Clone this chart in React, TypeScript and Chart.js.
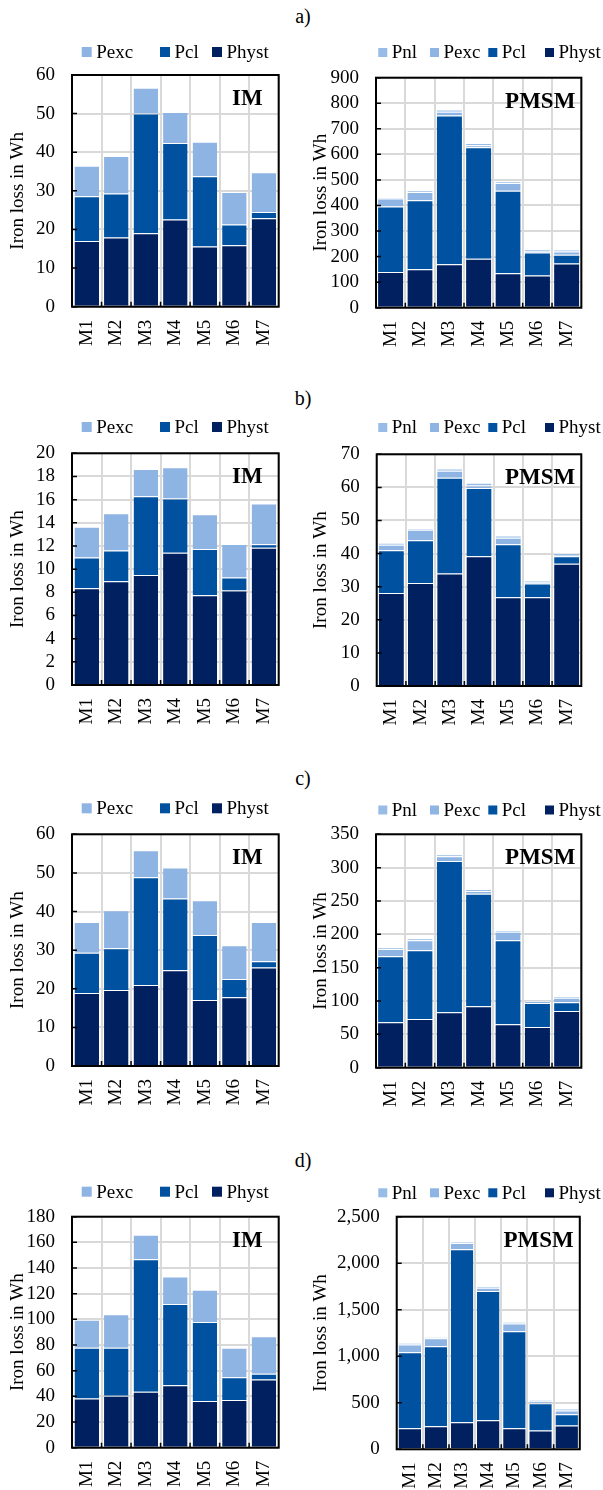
import React, { useEffect, useRef } from "react";
import { Chart, registerables } from "chart.js";

Chart.register(...registerables);

const FONT = '"Liberation Serif", "Times New Roman", serif';

const categories = ["M1", "M2", "M3", "M4", "M5", "M6", "M7"];

// a) IM
const aImPhyst = [17.0, 17.9, 19.0, 22.6, 15.6, 15.9, 22.9];
const aImPcl = [11.6, 11.4, 31.0, 19.8, 18.2, 5.4, 1.6];
const aImPexc = [7.9, 9.7, 6.7, 8.0, 8.9, 8.4, 10.3];
// a) PMSM
const aPmPhyst = [140, 150, 170, 192, 135, 126, 173];
const aPmPcl = [256, 270, 582, 436, 323, 90, 34];
const aPmPexc = [31, 33, 15, 8, 30, 6, 13];
const aPmPnl = [5, 5, 9, 8, 5, 6, 8];

// b) IM
const bImPhyst = [8.35, 8.96, 9.5, 11.42, 7.75, 8.15, 11.85];
const bImPcl = [2.65, 2.66, 6.8, 4.68, 3.98, 1.13, 0.29];
const bImPexc = [2.67, 3.21, 2.34, 2.69, 3.01, 2.89, 3.52];
// b) PMSM
const bPmPhyst = [28.1, 31.1, 34.0, 39.2, 26.8, 26.8, 36.9];
const bPmPcl = [12.9, 12.9, 28.9, 20.6, 16.0, 4.2, 2.3];
const bPmPexc = [1.7, 3.2, 2.1, 0.8, 2.0, 0.3, 0.4];
const bPmPnl = [0.6, 0.3, 0.7, 0.8, 0.7, 0.5, 0.6];

// c) IM
const cImPhyst = [18.9, 19.7, 21.0, 24.8, 17.1, 17.8, 25.5];
const cImPcl = [10.4, 10.8, 27.9, 18.6, 16.8, 4.7, 1.6];
const cImPexc = [8.0, 9.8, 7.0, 8.0, 9.0, 8.8, 10.2];
// c) PMSM
const cPmPhyst = [68, 73, 83, 92, 65, 61, 85];
const cPmPcl = [99, 103, 227, 169, 126, 36, 13];
const cPmPexc = [11, 15, 7, 4, 13, 3, 7];
const cPmPnl = [2, 3, 3, 3, 2, 1, 2];

// d) IM
const dImPhyst = [38.4, 40.5, 43.6, 48.6, 36.4, 37.1, 53.2];
const dImPcl = [39.5, 37.4, 103.2, 63.3, 61.5, 17.7, 4.5];
const dImPexc = [21.8, 26.0, 19.2, 21.6, 25.2, 23.1, 29.1];
// d) PMSM
const dPmPhyst = [227, 248, 291, 313, 227, 201, 255];
const dPmPcl = [816, 860, 1860, 1388, 1043, 295, 123];
const dPmPexc = [83, 86, 65, 36, 83, 18, 39];
const dPmPnl = [18, 11, 14, 15, 14, 18, 22];

// y-axis ranges [max, step]
const aImAxis = [60, 10];
const aPmAxis = [900, 100];
const bImAxis = [20, 2];
const bPmAxis = [70, 10];
const cImAxis = [60, 10];
const cPmAxis = [350, 50];
const dImAxis = [180, 20];
const dPmAxis = [2500, 500];

const rowLabels = ["a)", "b)", "c)", "d)"];
const yTitle = "Iron loss in Wh";

const COLORS: Record<string, string> = {
  Physt: "#002060",
  Pcl: "#0052a0",
  Pexc: "#8eb4e3",
  Pnl: "#97bde6",
};

const decorPlugin = {
  id: "decor",
  afterDatasetsDraw(chart: any, _args: any, opts: any) {
    const { ctx, chartArea: a } = chart;
    const xs = chart.scales.x;
    const ys = chart.scales.y;
    ctx.save();
    ctx.strokeStyle = "#000";
    ctx.lineWidth = 1.5;
    ctx.beginPath();
    ys.ticks.forEach((_t: any, i: number) => {
      const py = ys.getPixelForTick(i);
      ctx.moveTo(a.left, py);
      ctx.lineTo(a.left + 5, py);
    });
    for (let i = 1; i < xs.ticks.length; i++) {
      const px = (xs.getPixelForTick(i - 1) + xs.getPixelForTick(i)) / 2;
      ctx.moveTo(px, a.bottom);
      ctx.lineTo(px, a.bottom - 5);
    }
    ctx.stroke();
    ctx.lineWidth = 2;
    ctx.strokeRect(a.left, a.top, a.right - a.left, a.bottom - a.top);

    ctx.fillStyle = "#000";
    ctx.font = `bold 23px ${FONT}`;
    ctx.textAlign = "right";
    ctx.textBaseline = "middle";
    ctx.fillText(opts.tag, a.right - opts.tagRight, a.top + opts.tagTop);

    ctx.font = `19px ${FONT}`;
    ctx.textAlign = "left";
    const items = chart.data.datasets.slice().reverse();
    items.forEach((ds: any, i: number) => {
      const x = opts.legendX[i];
      const s = opts.box;
      ctx.fillStyle = ds.backgroundColor;
      ctx.fillRect(x, opts.legendY - s / 2, s, s);
      ctx.fillStyle = "#000";
      ctx.fillText(ds.label, x + s + 4.5, opts.legendY + 1);
    });
    ctx.restore();
  },
};

type PanelCfg = {
  x: number;
  y: number;
  w: number;
  h: number;
  area: { l: number; r: number; t: number; b: number };
  axis: number[];
  series: Record<string, number[]>;
  tag: string;
  legendY: number;
};

const IM_LEGEND_X = [81.7, 160, 212];
const PM_LEGEND_X = [78.3, 130, 188.3, 245];

const panels: PanelCfg[] = [
  { x: 0, y: 30, w: 300, h: 345, area: { l: 72, r: 296, t: 45, b: 276.7 }, axis: aImAxis, series: { Physt: aImPhyst, Pcl: aImPcl, Pexc: aImPexc }, tag: "IM", legendY: 22 },
  { x: 300, y: 30, w: 303, h: 345, area: { l: 76, r: 296, t: 47.7, b: 277.7 }, axis: aPmAxis, series: { Physt: aPmPhyst, Pcl: aPmPcl, Pexc: aPmPexc, Pnl: aPmPnl }, tag: "PMSM", legendY: 22.5 },
  { x: 0, y: 410, w: 300, h: 345, area: { l: 72, r: 296, t: 43.3, b: 275 }, axis: bImAxis, series: { Physt: bImPhyst, Pcl: bImPcl, Pexc: bImPexc }, tag: "IM", legendY: 17 },
  { x: 300, y: 410, w: 303, h: 345, area: { l: 76.7, r: 296, t: 44.3, b: 276 }, axis: bPmAxis, series: { Physt: bPmPhyst, Pcl: bPmPcl, Pexc: bPmPexc, Pnl: bPmPnl }, tag: "PMSM", legendY: 17.5 },
  { x: 0, y: 790, w: 300, h: 345, area: { l: 72, r: 296, t: 44.3, b: 276 }, axis: cImAxis, series: { Physt: cImPhyst, Pcl: cImPcl, Pexc: cImPexc }, tag: "IM", legendY: 18.3 },
  { x: 300, y: 790, w: 303, h: 345, area: { l: 76, r: 296, t: 44.3, b: 277.7 }, axis: cPmAxis, series: { Physt: cPmPhyst, Pcl: cPmPcl, Pexc: cPmPexc, Pnl: cPmPnl }, tag: "PMSM", legendY: 20 },
  { x: 0, y: 1170, w: 300, h: 320, area: { l: 72, r: 296, t: 46.7, b: 277.7 }, axis: dImAxis, series: { Physt: dImPhyst, Pcl: dImPcl, Pexc: dImPexc }, tag: "IM", legendY: 21.7 },
  { x: 300, y: 1170, w: 303, h: 320, area: { l: 96.7, r: 296, t: 46.7, b: 279.3 }, axis: dPmAxis, series: { Physt: dPmPhyst, Pcl: dPmPcl, Pexc: dPmPexc, Pnl: dPmPnl }, tag: "PMSM", legendY: 22.8 },
];

function Panel({ cfg }: { cfg: PanelCfg }) {
  const ref = useRef<HTMLCanvasElement>(null);
  useEffect(() => {
    const isIM = cfg.tag === "IM";
    const datasets = Object.keys(cfg.series).map((name) => ({
      label: name,
      data: cfg.series[name],
      backgroundColor: COLORS[name],
      borderColor: "rgba(255,255,255,0.45)",
      borderWidth: { top: 1, left: 0, right: 0, bottom: 0 },
      borderSkipped: false as any,
      barPercentage: isIM ? 0.83 : 0.86,
      categoryPercentage: 1,
    }));
    const tickFont = { family: FONT, size: 19, lineHeight: 1 };
    const chart = new Chart(ref.current as HTMLCanvasElement, {
      type: "bar",
      data: { labels: categories, datasets },
      plugins: [decorPlugin as any],
      options: {
        responsive: false,
        animation: false,
        locale: "en-US",
        layout: {
          padding: { left: 0, right: cfg.w - cfg.area.r, top: cfg.area.t, bottom: 0 },
        },
        plugins: {
          legend: { display: false },
          tooltip: { enabled: false },
          decor: {
            tag: cfg.tag,
            tagRight: isIM ? 16 : 6,
            tagTop: 24,
            legendX: isIM ? IM_LEGEND_X : PM_LEGEND_X,
            legendY: cfg.legendY,
            box: isIM ? 10 : 9,
          },
        } as any,
        scales: {
          x: {
            stacked: true,
            grid: { color: "#d9d9d9", lineWidth: 2, drawTicks: false, offset: true },
            border: { display: false },
            ticks: {
              color: "#000",
              font: { family: FONT, size: 19 },
              minRotation: 90,
              maxRotation: 90,
              padding: 13,
              autoSkip: false,
            },
            afterFit: (s: any) => {
              s.height = cfg.h - cfg.area.b;
            },
          },
          y: {
            stacked: true,
            min: 0,
            max: cfg.axis[0],
            grid: { color: "#d9d9d9", lineWidth: 2, drawTicks: false },
            border: { display: false },
            ticks: {
              stepSize: cfg.axis[1],
              color: "#000",
              font: tickFont,
              padding: 17,
              autoSkip: false,
              maxTicksLimit: 30,
            },
            title: {
              display: true,
              text: yTitle,
              color: "#000",
              font: { family: FONT, size: 19 },
              padding: { top: isIM ? 7 : 10, bottom: 0 },
            },
            afterFit: (s: any) => {
              s.width = cfg.area.l;
            },
          },
        },
      } as any,
    });
    return () => chart.destroy();
  }, []);
  return (
    <canvas
      ref={ref}
      width={cfg.w}
      height={cfg.h}
      style={{ position: "absolute", left: cfg.x, top: cfg.y, width: cfg.w, height: cfg.h }}
    />
  );
}

const rowLabelTops = [4, 386, 766, 1148];

export default function App() {
  return (
    <div style={{ position: "absolute", left: 0, top: 0, width: 603, height: 1490, background: "#fff", overflow: "hidden" }}>
      {rowLabels.map((t, i) => (
        <div
          key={t}
          style={{
            position: "absolute",
            left: 0,
            top: rowLabelTops[i],
            width: 606,
            textAlign: "center",
            fontFamily: FONT,
            fontSize: 20,
            lineHeight: "24px",
            color: "#000",
          }}
        >
          {t}
        </div>
      ))}
      {panels.map((p, i) => (
        <Panel key={i} cfg={p} />
      ))}
    </div>
  );
}
